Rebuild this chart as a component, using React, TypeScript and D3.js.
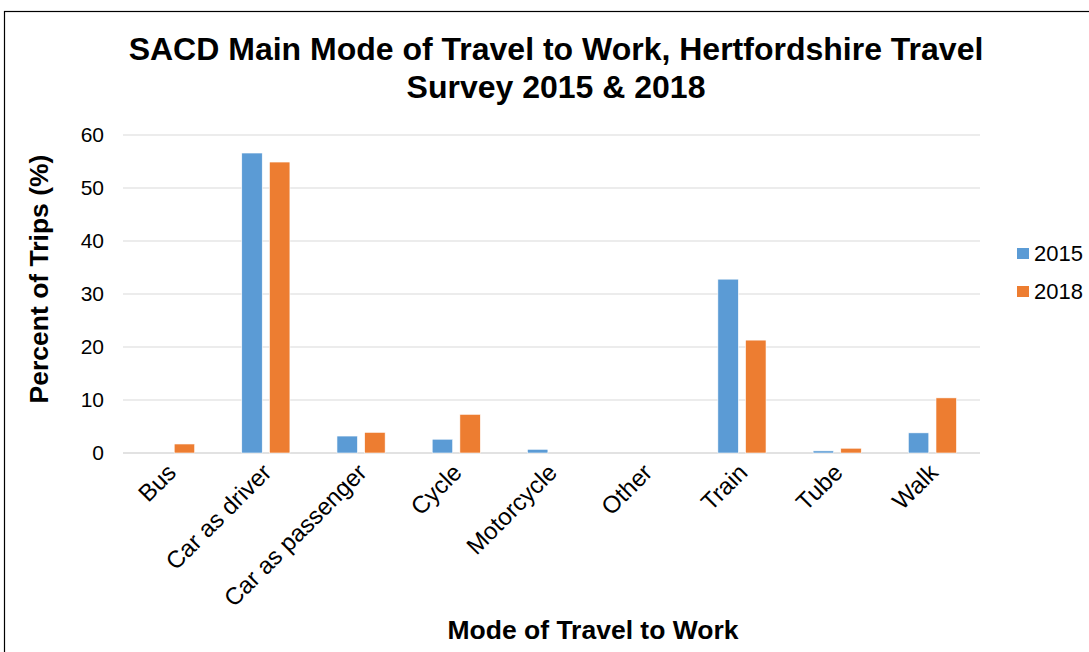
import React from "react";
import * as d3 from "d3";

const categories = ["Bus", "Car as driver", "Car as passenger", "Cycle", "Motorcycle", "Other", "Train", "Tube", "Walk"];
const series2015 = [0, 56.6, 3.2, 2.6, 0.7, 0, 32.8, 0.4, 3.8];
const series2018 = [1.7, 54.9, 3.9, 7.3, 0, 0, 21.3, 0.9, 10.4];
const seriesNames = ["2015", "2018"];
const seriesColors = ["#5B9BD5", "#ED7D31"];
const yTicks = [0, 10, 20, 30, 40, 50, 60];

const W = 1089;
const H = 652;
const left = 123;
const right = 980;
const top = 135;
const bottom = 453;

export default function App() {
  const x = d3.scaleBand<string>().domain(categories).range([left, right]).paddingInner(0).paddingOuter(0);
  const x1 = d3.scaleBand<string>().domain(seriesNames).range([0, x.bandwidth()]).paddingInner(0.26).paddingOuter(0.85);
  const y = d3.scaleLinear().domain([0, 60]).range([bottom, top]);
  const data = [series2015, series2018];
  const font = "Arial, 'Liberation Sans', sans-serif";

  return (
    <svg width={W} height={H} style={{ position: "absolute", left: 0, top: 0 }} fontFamily={font}>
      <rect x={0} y={0} width={W} height={H} fill="#fff" />
      <rect x={4.5} y={11.5} width={W + 20} height={H + 20} fill="#fff" stroke="#000" strokeWidth={1.2} />
      <text x={556} y={60} textAnchor="middle" fontSize={32} fontWeight="bold">SACD Main Mode of Travel to Work, Hertfordshire Travel</text>
      <text x={556} y={98} textAnchor="middle" fontSize={32} fontWeight="bold">Survey 2015 &amp; 2018</text>
      {yTicks.map((t) => (
        <g key={t}>
          <line x1={left} x2={right} y1={y(t)} y2={y(t)} stroke="#D9D9D9" strokeWidth={t === 0 ? 1.5 : 1.2} />
          <text x={104} y={y(t)} dy="0.35em" textAnchor="end" fontSize={21} fill="#000">{t}</text>
        </g>
      ))}
      {categories.map((c, i) => (
        <g key={c}>
          {data.map((s, j) => {
            const v = s[i];
            if (v <= 0) return null;
            return (
              <rect key={j} x={(x(c) as number) + (x1(seriesNames[j]) as number)} y={y(v)} width={x1.bandwidth()} height={bottom - y(v)} fill={seriesColors[j]} stroke="#fff" strokeWidth={0.6} />
            );
          })}
          <text transform={`translate(${(x(c) as number) + x.bandwidth() / 2 + 7},${474}) rotate(-45)`} textAnchor="end" fontSize={24} fill="#000">{c}</text>
        </g>
      ))}
      <text transform={`translate(48,279) rotate(-90)`} textAnchor="middle" fontSize={26.5} fontWeight="bold">Percent of Trips (%)</text>
      <text x={593} y={639} textAnchor="middle" fontSize={26.5} fontWeight="bold">Mode of Travel to Work</text>
      {seriesNames.map((n, j) => (
        <g key={n}>
          <rect x={1017} y={248 + j * 38} width={12} height={11} fill={seriesColors[j]} />
          <text x={1034} y={253 + j * 38} dy="0.35em" fontSize={22} fill="#000">{n}</text>
        </g>
      ))}
    </svg>
  );
}
